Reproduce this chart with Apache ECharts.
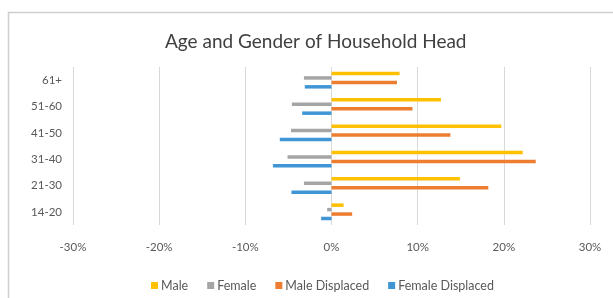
<!DOCTYPE html>
<html>
<head>
<meta charset="utf-8">
<script src="https://cdn.jsdelivr.net/npm/echarts@6/dist/echarts.min.js"></script>
<style>
  html, body { margin: 0; padding: 0; background: #fff; }
  #chart { width: 613px; height: 298px; }
</style>
</head>
<body>
<div id="chart"></div>
<script>
// age groups, top to bottom
const ageGroups = ['61+', '51-60', '41-50', '31-40', '21-30', '14-20']
const xTicks = [-30, -20, -10, 0, 10, 20, 30]

// shares in %, women drawn to the left as negatives
const male = [7.9, 12.7, 19.7, 22.2, 14.9, 1.4]
const female = [-3.2, -4.6, -4.7, -5.1, -3.2, -0.5]
const maleDisplaced = [7.6, 9.4, 13.8, 23.7, 18.2, 2.4]
const femaleDisplaced = [-3.1, -3.4, -6.0, -6.8, -4.65, -1.2]

const colors = ['#FFC000', '#A5A5A5', '#ED7D31', '#3F95D5']
const textFont = 'Lato, "Open Sans", sans-serif'

const chart = echarts.init(document.getElementById('chart'))

function barSeries(name, data) {
  return {
    name,
    type: 'bar',
    data,
    barWidth: 3.5,
    barGap: '27%',
  }
}

chart.setOption({
  animation: false,
  color: colors,
  graphic: [
    {
      type: 'rect',
      shape: { x: 8.5, y: 12.5, width: 640, height: 320 },
      style: { fill: 'none', stroke: '#cfcfcf', lineWidth: 1.5 },
      silent: true,
    },
  ],
  title: {
    text: 'Age and Gender of Household Head',
    left: 160,
    top: 27,
    textStyle: { fontFamily: textFont, fontSize: 19, fontWeight: 'normal', color: '#404040' },
  },
  legend: {
    bottom: 1,
    left: 146,
    itemWidth: 7,
    itemHeight: 7,
    itemGap: 19,
    icon: 'rect',
    textStyle: { fontFamily: textFont, fontSize: 12.5, color: '#595959', padding: [0, 0, 0, -2] },
  },
  grid: { left: 73, right: 23, top: 67, bottom: 73 },
  xAxis: {
    type: 'value',
    min: xTicks[0],
    max: xTicks[xTicks.length - 1],
    interval: 10,
    axisLine: { show: false },
    axisTick: { show: false },
    axisLabel: {
      formatter: '{value}%',
      fontFamily: textFont,
      fontSize: 11.5,
      color: '#595959',
      margin: 16,
    },
    splitLine: { lineStyle: { color: '#d9d9d9', width: 1 } },
  },
  yAxis: {
    type: 'category',
    data: ageGroups,
    inverse: true,
    axisLine: { show: false },
    axisTick: { show: false },
    axisLabel: { fontFamily: textFont, fontSize: 11.5, color: '#595959', margin: 11 },
  },
  series: [
    barSeries('Male', male),
    barSeries('Female', female),
    barSeries('Male Displaced', maleDisplaced),
    barSeries('Female Displaced', femaleDisplaced),
  ],
})
</script>
</body>
</html>
